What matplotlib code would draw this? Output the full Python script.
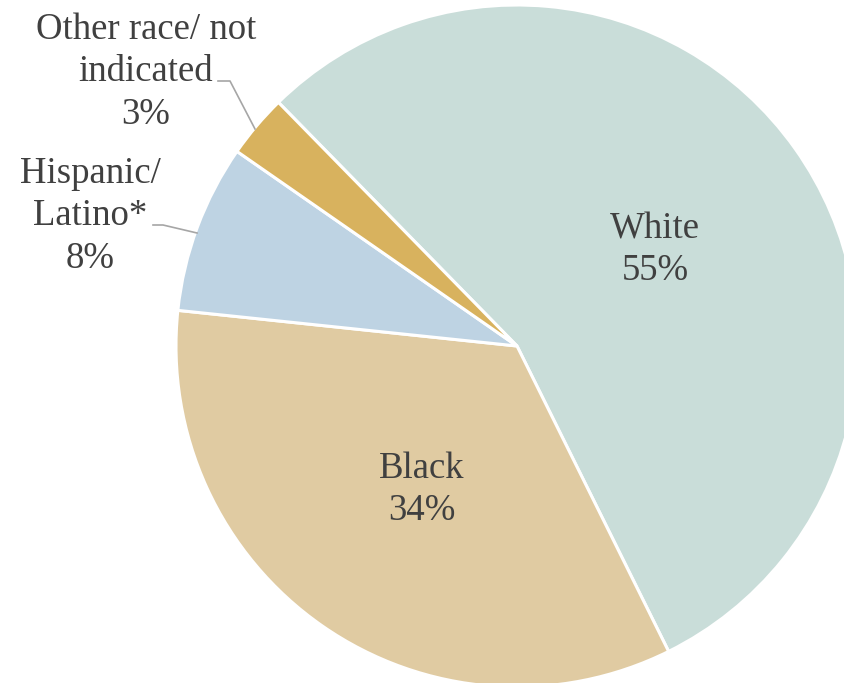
import matplotlib.pyplot as plt

# * Data
groups = ["White", "Black", "Hispanic/\nLatino*", "Other race/ not\nindicated"]
shares = [55, 34, 8, 3]
colors = ["#C9DDD9", "#E0CBA2", "#BED3E3", "#D8B25E"]

plt.rcParams["font.family"] = ["Liberation Serif", "DejaVu Serif"]

W, H = 844, 683
fig = plt.figure(figsize=(W / 100, H / 100), dpi=100)
ax = fig.add_axes([0, 0, 1, 1])

# Work in pixel coords (y measured from the top) so the pie can overflow the frame.
wedges, _ = ax.pie(shares, colors=colors, startangle=134.4, counterclock=False,
                   center=(517, H - 346), radius=341,
                   wedgeprops=dict(edgecolor="white", linewidth=2.2))
ax.set_xlim(0, W)
ax.set_ylim(0, H)
ax.set_aspect("equal")
ax.axis("off")

txt = dict(ha="center", va="center", fontsize=26.5, color="#404040", linespacing=1.3)

# Inside labels.
inside = {0: (655, 250), 1: (422, 490)}
for i, (x, y) in inside.items():
    ax.text(x, H - y, f"{groups[i]}\n{shares[i]}%", **txt)

# Outside labels with leader lines.
outside = {2: ((90, 216), [(153, 225), (163, 225), (197, 233)]),
           3: ((146, 72), [(218, 81), (230, 81), (255, 129)])}
for i, ((x, y), pts) in outside.items():
    ax.text(x, H - y, f"{groups[i]}\n{shares[i]}%", **txt)
    ax.plot([p[0] for p in pts], [H - p[1] for p in pts], color="#A6A6A6", lw=1.2)

fig.savefig("out.png", dpi=100)
